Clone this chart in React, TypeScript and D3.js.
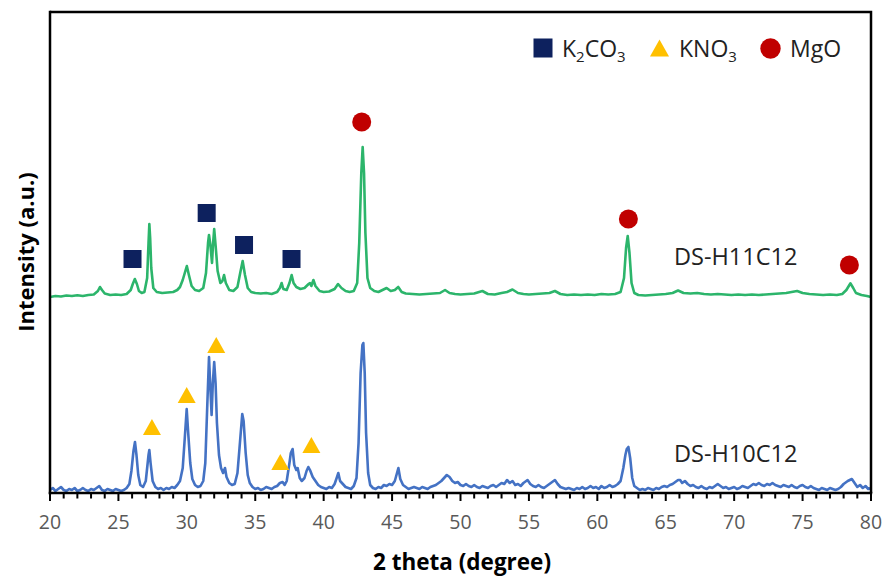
import * as d3 from 'd3';

// 2 theta (degree) / intensity (a.u.) pairs
const greenTheta = [20.0, 20.4, 20.8, 21.2, 21.6, 22.0, 22.4, 22.8, 23.2, 23.5, 23.65, 23.8, 24.0, 24.4, 24.8, 25.2, 25.6, 25.9, 26.05, 26.2, 26.35, 26.5, 26.7, 26.9, 27.1, 27.2, 27.26, 27.32, 27.4, 27.55, 27.8, 28.2, 28.6, 29.0, 29.3, 29.5, 29.7, 29.85, 30.0, 30.15, 30.35, 30.6, 30.9, 31.2, 31.4, 31.55, 31.62, 31.72, 31.84, 31.92, 32.0, 32.1, 32.25, 32.45, 32.6, 32.72, 32.85, 33.1, 33.4, 33.7, 33.9, 34.08, 34.25, 34.45, 34.7, 35.0, 35.4, 35.8, 36.2, 36.6, 36.8, 36.93, 37.05, 37.3, 37.5, 37.66, 37.8, 38.0, 38.3, 38.6, 38.9, 39.0, 39.1, 39.25, 39.4, 39.7, 40.0, 40.4, 40.8, 41.05, 41.3, 41.6, 41.9, 42.2, 42.45, 42.6, 42.75, 42.85, 42.95, 43.05, 43.2, 43.4, 43.7, 44.0, 44.3, 44.6, 44.9, 45.2, 45.45, 45.7, 46.0, 46.5, 47.0, 47.5, 48.0, 48.5, 48.87, 49.2, 49.6, 50.0, 50.5, 51.0, 51.6, 52.0, 52.5, 53.0, 53.4, 53.8, 54.2, 54.6, 55.0, 55.5, 56.0, 56.5, 56.9, 57.3, 57.8, 58.3, 58.8, 59.3, 59.8, 60.3, 60.8, 61.3, 61.7, 61.95, 62.1, 62.22, 62.35, 62.5, 62.7, 63.0, 63.5, 64.0, 64.5, 65.0, 65.5, 65.9, 66.3, 66.8, 67.3, 67.8, 68.3, 68.8, 69.3, 69.8, 70.3, 70.8, 71.3, 71.8, 72.3, 72.8, 73.3, 73.8, 74.2, 74.6, 75.0, 75.5, 76.0, 76.5, 77.0, 77.5, 77.9, 78.2, 78.5, 78.7, 78.9, 79.3, 79.7, 80.0];
const greenIntensity = [196, 197, 196.5, 197.5, 197, 197.8, 197, 198, 198.5, 202, 206, 203, 199.5, 198, 198.5, 198, 199, 203, 209, 214, 209, 202, 200, 201, 215, 250, 269, 255, 225, 205, 201, 200, 200.5, 201, 203, 206, 213, 220, 227, 218, 207, 203, 202, 205, 220, 250, 258, 248, 230, 250, 264, 248, 222, 210, 212, 218, 210, 203, 202, 206, 220, 232, 218, 205, 201, 200, 199.5, 200, 199, 201, 205, 210, 204, 203, 210, 218, 210, 206, 204, 205, 209, 210, 207, 213, 207, 202, 201, 201.5, 204, 209, 205, 202, 201, 202, 210, 250, 320, 346, 320, 260, 215, 205, 202, 201, 203, 205, 202, 203, 206, 201, 199.5, 199, 198.5, 199, 199.5, 200, 203, 200, 199, 198.5, 199, 199.5, 202, 199, 198.5, 200, 201, 203.5, 200, 199, 198.5, 199, 199.5, 200, 202, 199, 198, 198.5, 198, 198.5, 198, 199, 198.5, 199, 201, 215, 245, 257, 240, 210, 200, 198, 197.5, 198, 198.5, 199, 200, 202.5, 200, 199.5, 200, 199, 198.5, 199, 198.5, 198, 198.5, 198, 198.5, 198, 198.5, 199, 199.5, 200, 201, 202, 200, 199, 198.5, 198, 198.5, 198, 199, 203, 209.7, 205, 200, 198, 197, 196];

const blueTheta = [20.0, 20.2, 20.4, 20.6, 20.8, 21.0, 21.2, 21.4, 21.6, 21.8, 22.0, 22.2, 22.4, 22.6, 22.8, 23.0, 23.2, 23.4, 23.6, 23.8, 24.0, 24.2, 24.4, 24.6, 24.8, 25.0, 25.2, 25.4, 25.6, 25.8, 25.95, 26.1, 26.21, 26.32, 26.45, 26.6, 26.8, 27.0, 27.1, 27.2, 27.26, 27.35, 27.5, 27.7, 27.9, 28.1, 28.3, 28.5, 28.7, 28.9, 29.1, 29.3, 29.5, 29.7, 29.85, 29.99, 30.1, 30.25, 30.4, 30.6, 30.8, 31.0, 31.2, 31.35, 31.5, 31.62, 31.72, 31.81, 31.9, 32.0, 32.1, 32.2, 32.35, 32.5, 32.65, 32.79, 32.9, 33.1, 33.3, 33.5, 33.7, 33.85, 34.05, 34.15, 34.3, 34.45, 34.6, 34.8, 35.0, 35.2, 35.4, 35.6, 35.8, 36.0, 36.2, 36.4, 36.6, 36.8, 37.0, 37.15, 37.3, 37.5, 37.6, 37.73, 37.85, 38.0, 38.1, 38.25, 38.4, 38.6, 38.75, 38.88, 39.0, 39.2, 39.4, 39.6, 39.8, 40.0, 40.2, 40.4, 40.6, 40.8, 41.0, 41.07, 41.2, 41.4, 41.6, 41.8, 42.0, 42.2, 42.4, 42.55, 42.7, 42.83, 42.9, 43.0, 43.1, 43.25, 43.4, 43.6, 43.8, 44.0, 44.2, 44.4, 44.6, 44.8, 45.0, 45.2, 45.46, 45.6, 45.8, 46.0, 46.2, 46.4, 46.6, 46.8, 47.0, 47.2, 47.4, 47.6, 47.8, 48.0, 48.2, 48.4, 48.6, 48.8, 49.0, 49.2, 49.4, 49.6, 49.8, 50.0, 50.2, 50.4, 50.6, 50.8, 51.0, 51.2, 51.4, 51.6, 51.8, 52.0, 52.2, 52.4, 52.6, 52.8, 53.0, 53.2, 53.4, 53.6, 53.8, 54.0, 54.2, 54.4, 54.6, 54.9, 55.1, 55.3, 55.5, 55.7, 55.9, 56.1, 56.3, 56.5, 56.7, 56.9, 57.1, 57.3, 57.5, 57.7, 57.9, 58.1, 58.3, 58.5, 58.7, 58.9, 59.1, 59.3, 59.5, 59.7, 59.9, 60.1, 60.3, 60.5, 60.7, 60.9, 61.1, 61.3, 61.5, 61.7, 61.9, 62.05, 62.15, 62.27, 62.4, 62.55, 62.7, 62.9, 63.1, 63.3, 63.5, 63.7, 63.9, 64.1, 64.3, 64.5, 64.7, 64.9, 65.1, 65.3, 65.5, 65.7, 65.9, 66.05, 66.2, 66.4, 66.6, 66.8, 67.0, 67.2, 67.4, 67.6, 67.8, 68.0, 68.2, 68.4, 68.6, 68.8, 69.0, 69.2, 69.4, 69.6, 69.8, 70.0, 70.2, 70.4, 70.6, 70.8, 71.0, 71.2, 71.4, 71.6, 71.8, 72.0, 72.2, 72.4, 72.6, 72.8, 73.0, 73.2, 73.4, 73.6, 73.8, 74.0, 74.2, 74.4, 74.6, 74.8, 75.0, 75.2, 75.4, 75.6, 75.8, 76.0, 76.2, 76.4, 76.6, 76.8, 77.0, 77.2, 77.4, 77.6, 77.8, 78.0, 78.3, 78.6, 78.8, 79.0, 79.2, 79.4, 79.6, 79.8, 80.0];
const blueIntensity = [3, 5, 2, 4, 6, 3, 2, 4, 3, 5, 2, 3, 5, 3, 2, 4, 3, 5, 7, 3, 2, 4, 3, 2, 4, 3, 2, 3, 5, 9, 22, 42, 51, 38, 18, 8, 6, 12, 25, 38, 43, 30, 12, 6, 4, 5, 3, 5, 4, 6, 5, 8, 12, 25, 55, 84, 60, 30, 14, 8, 6, 7, 12, 30, 90, 136, 105, 78, 110, 131, 110, 70, 38, 25, 20, 25, 16, 10, 8, 9, 20, 45, 79, 72, 40, 18, 10, 6, 4, 5, 3, 4, 6, 5, 4, 6, 7, 10, 11, 8, 12, 30, 40, 44, 28, 23, 25, 15, 12, 15, 22, 26, 23, 16, 12, 8, 6, 5, 4, 6, 5, 9, 17, 20, 12, 9, 6, 5, 4, 7, 15, 50, 120, 148, 150, 120, 60, 20, 8, 5, 4, 6, 5, 8, 7, 9, 8, 12, 25, 14, 8, 6, 4, 5, 6, 5, 4, 6, 5, 4, 6, 7, 8, 10, 12, 15, 18, 16, 12, 10, 11, 8, 7, 9, 7, 6, 8, 6, 5, 7, 6, 5, 7, 8, 6, 8, 10, 9, 13, 10, 12, 8, 9, 7, 10, 13, 9, 7, 6, 8, 6, 5, 7, 9, 11, 13, 9, 6, 5, 4, 5, 4, 3, 5, 4, 6, 4, 5, 7, 5, 6, 4, 7, 5, 6, 8, 6, 7, 9, 12, 25, 38, 44, 46, 35, 15, 7, 5, 3, 4, 3, 5, 4, 3, 5, 4, 6, 7, 6, 8, 9, 11, 13, 13, 10, 12, 9, 7, 8, 6, 5, 7, 5, 4, 6, 5, 7, 9, 7, 5, 6, 4, 5, 6, 4, 5, 7, 6, 5, 7, 9, 8, 10, 8, 7, 9, 8, 10, 8, 7, 6, 8, 7, 6, 8, 6, 5, 7, 8, 6, 5, 7, 5, 4, 3, 5, 4, 3, 5, 4, 3, 4, 6, 9, 12, 14, 10, 6, 8, 5, 7, 4, 5];

// phase markers: peak position and marker height
const k2co3Theta = [26.03, 31.45, 34.18, 37.65];
const k2co3Level = [234, 280, 248, 234];
const kno3Theta = [27.45, 29.99, 32.15, 36.83, 39.1];
const kno3Level = [66, 98, 148, 31, 48];
const mgoTheta = [42.78, 62.27, 78.42];
const mgoLevel = [371, 274, 228];

const xTicks = [20, 25, 30, 35, 40, 45, 50, 55, 60, 65, 70, 75, 80];
const xMinorTicks = d3.range(20, 81, 1);

const sampleLabels = ['DS-H11C12', 'DS-H10C12'];
const sampleLabelLevel = [228, 31];

const width = 889;
const height = 581;
const margin = { top: 12, right: 18, bottom: 88, left: 50 };

const GREEN = '#2cb56b';
const BLUE = '#4472c4';
const NAVY = '#0d215e';
const GOLD = '#ffc000';
const RED = '#c00000';

export default function App() {
  const x = d3.scaleLinear().domain([20, 80]).range([margin.left, width - margin.right]);
  const y = d3.scaleLinear().domain([0, 481]).range([height - margin.bottom, margin.top]);

  const line = d3
    .line<[number, number]>()
    .x((d) => x(d[0]))
    .y((d) => y(d[1]));

  const green = greenTheta.map((t, i) => [t, greenIntensity[i]] as [number, number]);
  const blue = blueTheta.map((t, i) => [t, blueIntensity[i]] as [number, number]);

  const x0 = margin.left;
  const x1 = width - margin.right;
  const y0 = height - margin.bottom;
  const y1 = margin.top;
  const font = '"Open Sans", sans-serif';

  const tri = (cx: number, cy: number, s: number) =>
    `M${cx - s / 2},${cy + s * 0.45}L${cx + s / 2},${cy + s * 0.45}L${cx},${cy - s * 0.45}Z`;

  return (
    <svg width={width} height={height} style={{ position: 'absolute', left: 0, top: 0 }} fontFamily={font}>
      <rect width={width} height={height} fill="#fff" />
      <path d={line(blue) || ''} fill="none" stroke={BLUE} strokeWidth={2.6} strokeLinejoin="round" />
      <path d={line(green) || ''} fill="none" stroke={GREEN} strokeWidth={2.6} strokeLinejoin="round" />

      {k2co3Theta.map((t, i) => (
        <rect key={'s' + i} x={x(t) - 9} y={y(k2co3Level[i]) - 9} width={18} height={18} fill={NAVY} />
      ))}
      {kno3Theta.map((t, i) => (
        <path key={'t' + i} d={tri(x(t), y(kno3Level[i]), 18)} fill={GOLD} />
      ))}
      {mgoTheta.map((t, i) => (
        <circle key={'c' + i} cx={x(t)} cy={y(mgoLevel[i])} r={9.5} fill={RED} />
      ))}

      {sampleLabels.map((s, i) => (
        <text key={s} x={674} y={y(sampleLabelLevel[i])} fontSize={23.5} fill="#222">
          {s}
        </text>
      ))}

      {/* frame */}
      <path d={`M${x0},${y1}H${x1}V${y0}`} fill="none" stroke="#000" strokeWidth={2.5} />
      <line x1={x0} y1={y1 - 1.25} x2={x0} y2={y0 + 1.25} stroke="#000" strokeWidth={2.5} />
      <line x1={x0 - 1.25} y1={y0} x2={x1 + 1.25} y2={y0} stroke="#000" strokeWidth={2.5} />

      {xMinorTicks.map((t) => (
        <line key={'m' + t} x1={x(t)} x2={x(t)} y1={y0} y2={y0 + (t % 5 === 0 ? 8 : 5.5)} stroke="#000" strokeWidth={2} />
      ))}
      {xTicks.map((t) => (
        <text key={'l' + t} x={x(t)} y={529} textAnchor="middle" fontSize={19.5} fill="#595959">
          {t}
        </text>
      ))}

      <text x={462} y={570} textAnchor="middle" fontSize={22.5} fontWeight="bold" fill="#000">
        2 theta (degree)
      </text>
      <text transform="translate(34,252) rotate(-90)" textAnchor="middle" fontSize={22} fontWeight="bold" fill="#000">
        Intensity (a.u.)
      </text>

      {/* legend */}
      <rect x={533.5} y={38.5} width={19} height={19} fill={NAVY} />
      <text x={562} y={56.5} fontSize={23} fill="#222">
        K<tspan fontSize={15} dy={5}>2</tspan>
        <tspan dy={-5}>CO</tspan>
        <tspan fontSize={15} dy={5}>3</tspan>
      </text>
      <path d={tri(659.5, 48, 19)} fill={GOLD} />
      <text x={679} y={56.5} fontSize={23} fill="#222">
        KNO<tspan fontSize={15} dy={5}>3</tspan>
      </text>
      <circle cx={770.5} cy={48.5} r={10.2} fill={RED} />
      <text x={790} y={56.5} fontSize={23} fill="#222">
        MgO
      </text>
    </svg>
  );
}
